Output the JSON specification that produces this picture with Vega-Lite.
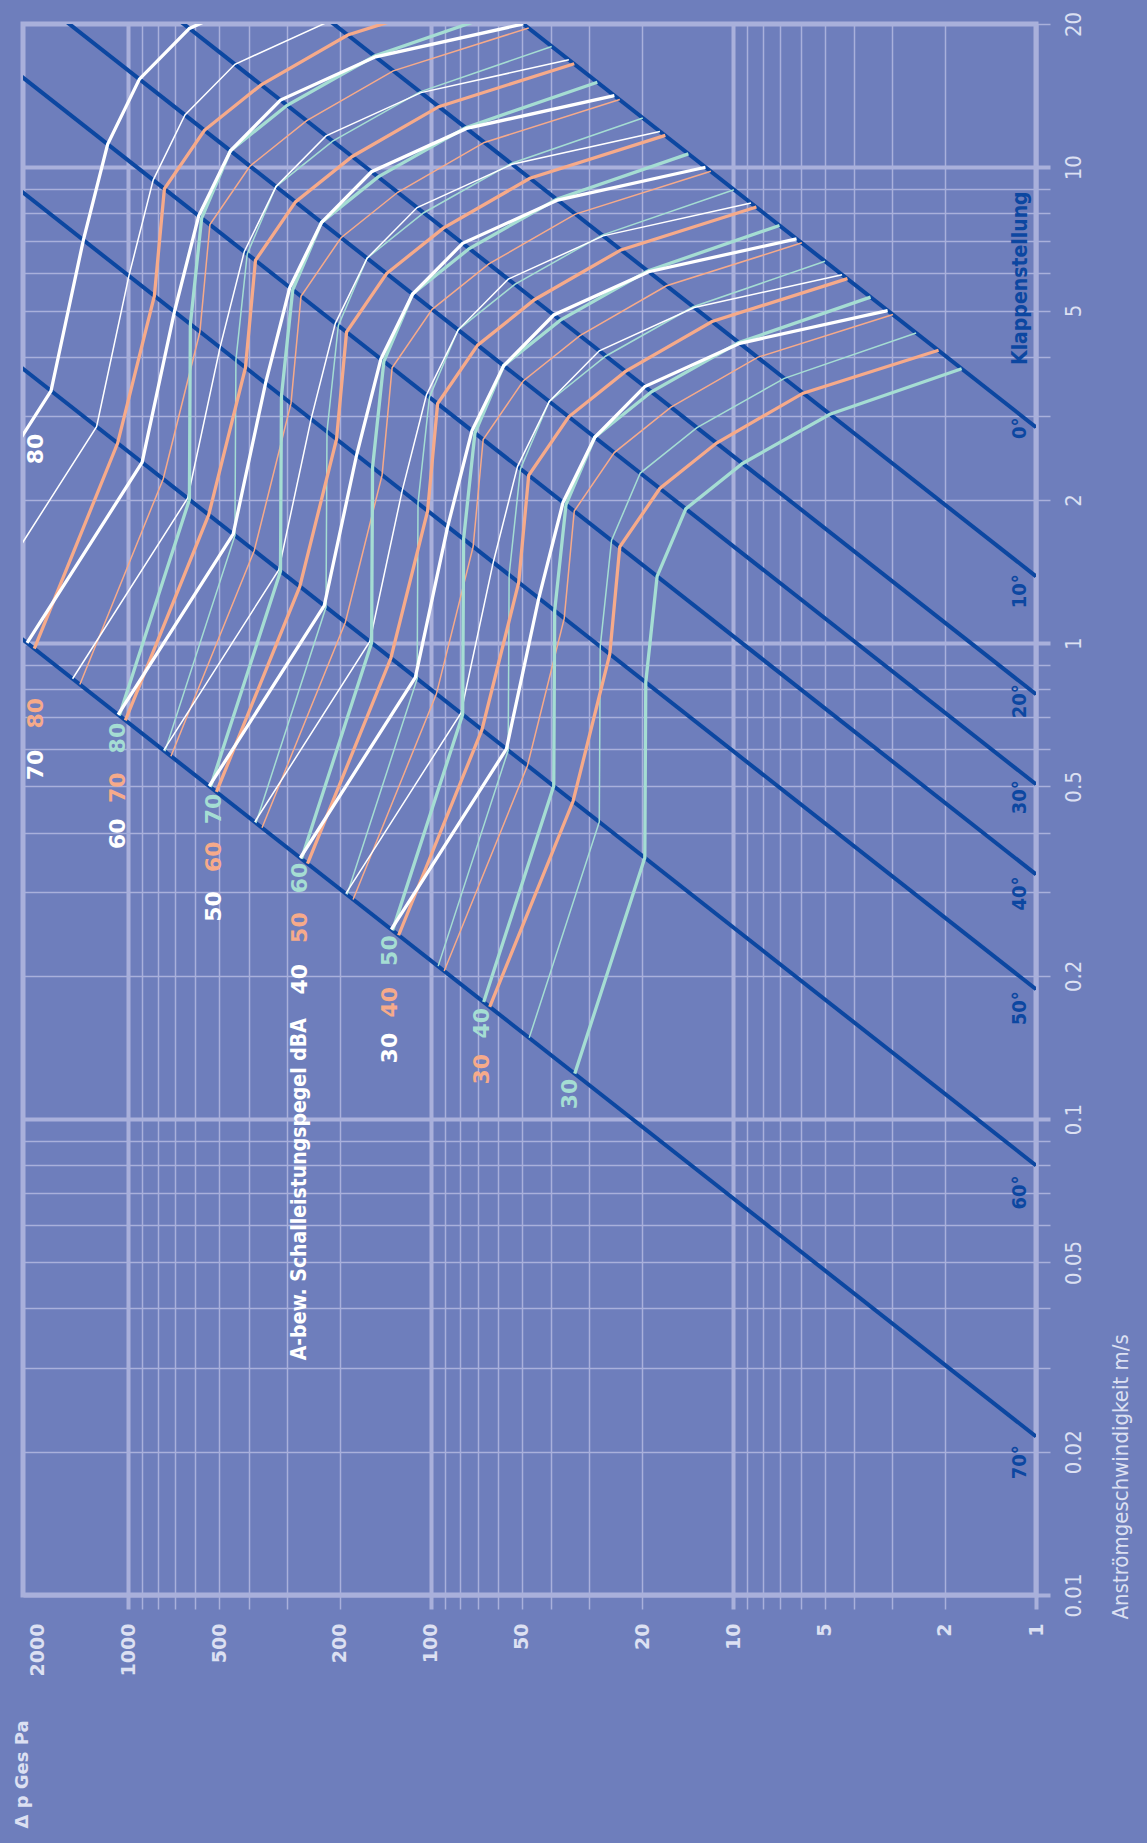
{
"$schema": "https://vega.github.io/schema/vega-lite/v6.json",
"width": 1013, "height": 1571,
"autosize": {"type": "none"},
"padding": {"left": 23, "top": 24, "right": 111, "bottom": 248},
"background": "#6E7EBC",
"config": {"view": {"stroke": "#A9B0DB", "strokeWidth": 5}, "font": "DejaVu Sans"},
"datasets": {
"angles": [
{"a":0,"p":1,"v":2.843},{"a":0,"p":10000,"v":284.3},
{"a":10,"p":1,"v":1.382},{"a":10,"p":10000,"v":138.2},
{"a":20,"p":1,"v":0.7809},{"a":20,"p":10000,"v":78.09},
{"a":30,"p":1,"v":0.5052},{"a":30,"p":10000,"v":50.52},
{"a":40,"p":1,"v":0.3268},{"a":40,"p":10000,"v":32.68},
{"a":50,"p":1,"v":0.1874},{"a":50,"p":10000,"v":18.74},
{"a":60,"p":1,"v":0.07991},{"a":60,"p":10000,"v":7.991},
{"a":70,"p":1,"v":0.02153},{"a":70,"p":10000,"v":2.153}
],
"anglelabels": [
{"t":"0°","p":1.13,"v":2.829},{"t":"10°","p":1.13,"v":1.285},{"t":"20°","p":1.13,"v":0.7549},{"t":"30°","p":1.13,"v":0.4745},
{"t":"40°","p":1.13,"v":0.298},{"t":"50°","p":1.13,"v":0.1709},{"t":"60°","p":1.13,"v":0.0701},{"t":"70°","p":1.13,"v":0.019}
],
"levels": [
{"f":"white","L":80,"p":2021,"v":2.559},{"f":"white","L":70,"p":2021,"v":0.5548},{"f":"white","L":60,"p":1081,"v":0.3977},{"f":"white","L":50,"p":521.6,"v":0.2797},{"f":"white","L":40,"p":270.7,"v":0.1967},{"f":"white","L":30,"p":136.4,"v":0.141},
{"f":"salmon","L":80,"p":2021,"v":0.7127},{"f":"salmon","L":70,"p":1081,"v":0.4968},{"f":"salmon","L":60,"p":521.6,"v":0.3558},{"f":"salmon","L":50,"p":270.7,"v":0.2526},{"f":"salmon","L":40,"p":136.4,"v":0.1761},{"f":"salmon","L":30,"p":67.92,"v":0.1273},
{"f":"mint","L":80,"p":1081,"v":0.6318},{"f":"mint","L":70,"p":521.6,"v":0.4485},{"f":"mint","L":60,"p":270.7,"v":0.3212},{"f":"mint","L":50,"p":136.4,"v":0.226},{"f":"mint","L":40,"p":67.92,"v":0.159},{"f":"mint","L":30,"p":34.7,"v":0.1129}
],
"curves": [
{"f":"mint","L":30,"a":70,"p":33.45,"v":0.1246},{"f":"mint","L":30,"a":60,"p":19.63,"v":0.3541},{"f":"mint","L":30,"a":50,"p":19.49,"v":0.8269},{"f":"mint","L":30,"a":40,"p":17.88,"v":1.382},{"f":"mint","L":30,"a":30,"p":14.37,"v":1.915},{"f":"mint","L":30,"a":20,"p":9.331,"v":2.386},{"f":"mint","L":30,"a":10,"p":4.799,"v":3.028},{"f":"mint","L":30,"a":0,"p":1.761,"v":3.772},
{"f":"mint","L":35,"a":70,"p":47.31,"v":0.1482},{"f":"mint","L":35,"a":60,"p":27.76,"v":0.4211},{"f":"mint","L":35,"a":50,"p":27.56,"v":0.9833},{"f":"mint","L":35,"a":40,"p":25.29,"v":1.6435},{"f":"mint","L":35,"a":30,"p":20.32,"v":2.2773},{"f":"mint","L":35,"a":20,"p":13.196,"v":2.8374},{"f":"mint","L":35,"a":10,"p":6.787,"v":3.601},{"f":"mint","L":35,"a":0,"p":2.4904,"v":4.4857},
{"f":"mint","L":40,"a":70,"p":66.9,"v":0.1762},{"f":"mint","L":40,"a":60,"p":39.26,"v":0.5008},{"f":"mint","L":40,"a":50,"p":38.98,"v":1.1694},{"f":"mint","L":40,"a":40,"p":35.76,"v":1.9544},{"f":"mint","L":40,"a":30,"p":28.74,"v":2.7082},{"f":"mint","L":40,"a":20,"p":18.662,"v":3.3743},{"f":"mint","L":40,"a":10,"p":9.598,"v":4.2822},{"f":"mint","L":40,"a":0,"p":3.522,"v":5.3344},
{"f":"mint","L":45,"a":70,"p":94.61,"v":0.2096},{"f":"mint","L":45,"a":60,"p":55.52,"v":0.5955},{"f":"mint","L":45,"a":50,"p":55.13,"v":1.3907},{"f":"mint","L":45,"a":40,"p":50.57,"v":2.3242},{"f":"mint","L":45,"a":30,"p":40.65,"v":3.2206},{"f":"mint","L":45,"a":20,"p":26.392,"v":4.0128},{"f":"mint","L":45,"a":10,"p":13.574,"v":5.0925},{"f":"mint","L":45,"a":0,"p":4.9808,"v":6.3437},
{"f":"mint","L":50,"a":70,"p":133.8,"v":0.2492},{"f":"mint","L":50,"a":60,"p":78.52,"v":0.7082},{"f":"mint","L":50,"a":50,"p":77.96,"v":1.6538},{"f":"mint","L":50,"a":40,"p":71.52,"v":2.764},{"f":"mint","L":50,"a":30,"p":57.48,"v":3.83},{"f":"mint","L":50,"a":20,"p":37.324,"v":4.772},{"f":"mint","L":50,"a":10,"p":19.196,"v":6.056},{"f":"mint","L":50,"a":0,"p":7.044,"v":7.544},
{"f":"mint","L":55,"a":70,"p":189.2,"v":0.2963},{"f":"mint","L":55,"a":60,"p":111.0,"v":0.8422},{"f":"mint","L":55,"a":50,"p":110.3,"v":1.9667},{"f":"mint","L":55,"a":40,"p":101.1,"v":3.2869},{"f":"mint","L":55,"a":30,"p":81.29,"v":4.5546},{"f":"mint","L":55,"a":20,"p":52.784,"v":5.6749},{"f":"mint","L":55,"a":10,"p":27.147,"v":7.2018},{"f":"mint","L":55,"a":0,"p":9.9618,"v":8.9713},
{"f":"mint","L":60,"a":70,"p":267.6,"v":0.3524},{"f":"mint","L":60,"a":60,"p":157.0,"v":1.0016},{"f":"mint","L":60,"a":50,"p":155.9,"v":2.3388},{"f":"mint","L":60,"a":40,"p":143.0,"v":3.9088},{"f":"mint","L":60,"a":30,"p":115.0,"v":5.4164},{"f":"mint","L":60,"a":20,"p":74.648,"v":6.7486},{"f":"mint","L":60,"a":10,"p":38.392,"v":8.5644},{"f":"mint","L":60,"a":0,"p":14.088,"v":10.669},
{"f":"mint","L":65,"a":70,"p":378.5,"v":0.4191},{"f":"mint","L":65,"a":60,"p":222.1,"v":1.1911},{"f":"mint","L":65,"a":50,"p":220.5,"v":2.7814},{"f":"mint","L":65,"a":40,"p":202.3,"v":4.6485},{"f":"mint","L":65,"a":30,"p":162.6,"v":6.4413},{"f":"mint","L":65,"a":20,"p":105.57,"v":8.0255},{"f":"mint","L":65,"a":10,"p":54.295,"v":10.185},{"f":"mint","L":65,"a":0,"p":19.923,"v":12.687},
{"f":"mint","L":70,"a":70,"p":535.2,"v":0.4984},{"f":"mint","L":70,"a":60,"p":314.1,"v":1.4164},{"f":"mint","L":70,"a":50,"p":311.8,"v":3.3076},{"f":"mint","L":70,"a":40,"p":286.1,"v":5.528},{"f":"mint","L":70,"a":30,"p":229.9,"v":7.66},{"f":"mint","L":70,"a":20,"p":149.3,"v":9.544},{"f":"mint","L":70,"a":10,"p":76.784,"v":12.112},{"f":"mint","L":70,"a":0,"p":28.176,"v":15.088},
{"f":"mint","L":75,"a":70,"p":756.9,"v":0.5927},{"f":"mint","L":75,"a":60,"p":444.2,"v":1.6844},{"f":"mint","L":75,"a":50,"p":441.0,"v":3.9334},{"f":"mint","L":75,"a":40,"p":404.6,"v":6.5739},{"f":"mint","L":75,"a":30,"p":325.2,"v":9.1093},{"f":"mint","L":75,"a":20,"p":211.14,"v":11.35},{"f":"mint","L":75,"a":10,"p":108.59,"v":14.404},{"f":"mint","L":75,"a":0,"p":39.847,"v":17.943},
{"f":"mint","L":80,"a":70,"p":1070.4,"v":0.7048},{"f":"mint","L":80,"a":60,"p":628.2,"v":2.0031},{"f":"mint","L":80,"a":50,"p":623.7,"v":4.6777},{"f":"mint","L":80,"a":40,"p":572.2,"v":7.8178},{"f":"mint","L":80,"a":30,"p":459.8,"v":10.833},{"f":"mint","L":80,"a":20,"p":298.6,"v":13.497},{"f":"mint","L":80,"a":10,"p":153.57,"v":17.129},{"f":"mint","L":80,"a":0,"p":56.352,"v":21.338},
{"f":"salmon","L":30,"a":70,"p":63.91,"v":0.1721},{"f":"salmon","L":30,"a":60,"p":33.89,"v":0.4654},{"f":"salmon","L":30,"a":50,"p":25.63,"v":0.9483},{"f":"salmon","L":30,"a":40,"p":23.75,"v":1.593},{"f":"salmon","L":30,"a":30,"p":17.51,"v":2.114},{"f":"salmon","L":30,"a":20,"p":11.37,"v":2.634},{"f":"salmon","L":30,"a":10,"p":5.884,"v":3.352},{"f":"salmon","L":30,"a":0,"p":2.099,"v":4.125},
{"f":"salmon","L":35,"a":70,"p":90.38,"v":0.20466},{"f":"salmon","L":35,"a":60,"p":47.93,"v":0.55345},{"f":"salmon","L":35,"a":50,"p":36.246,"v":1.1277},{"f":"salmon","L":35,"a":40,"p":33.587,"v":1.8944},{"f":"salmon","L":35,"a":30,"p":24.763,"v":2.514},{"f":"salmon","L":35,"a":20,"p":16.079,"v":3.1324},{"f":"salmon","L":35,"a":10,"p":8.3213,"v":3.9862},{"f":"salmon","L":35,"a":0,"p":2.9684,"v":4.9055},
{"f":"salmon","L":40,"a":70,"p":127.82,"v":0.24338},{"f":"salmon","L":40,"a":60,"p":67.78,"v":0.65817},{"f":"salmon","L":40,"a":50,"p":51.26,"v":1.3411},{"f":"salmon","L":40,"a":40,"p":47.5,"v":2.2528},{"f":"salmon","L":40,"a":30,"p":35.02,"v":2.9896},{"f":"salmon","L":40,"a":20,"p":22.74,"v":3.725},{"f":"salmon","L":40,"a":10,"p":11.768,"v":4.7404},{"f":"salmon","L":40,"a":0,"p":4.198,"v":5.8336},
{"f":"salmon","L":45,"a":70,"p":180.76,"v":0.28944},{"f":"salmon","L":45,"a":60,"p":95.86,"v":0.78271},{"f":"salmon","L":45,"a":50,"p":72.492,"v":1.5948},{"f":"salmon","L":45,"a":40,"p":67.175,"v":2.6791},{"f":"salmon","L":45,"a":30,"p":49.526,"v":3.5553},{"f":"salmon","L":45,"a":20,"p":32.159,"v":4.4299},{"f":"salmon","L":45,"a":10,"p":16.643,"v":5.6374},{"f":"salmon","L":45,"a":0,"p":5.9368,"v":6.9374},
{"f":"salmon","L":50,"a":70,"p":255.64,"v":0.3442},{"f":"salmon","L":50,"a":60,"p":135.56,"v":0.9308},{"f":"salmon","L":50,"a":50,"p":102.52,"v":1.8966},{"f":"salmon","L":50,"a":40,"p":95,"v":3.186},{"f":"salmon","L":50,"a":30,"p":70.04,"v":4.228},{"f":"salmon","L":50,"a":20,"p":45.48,"v":5.268},{"f":"salmon","L":50,"a":10,"p":23.536,"v":6.704},{"f":"salmon","L":50,"a":0,"p":8.396,"v":8.25},
{"f":"salmon","L":55,"a":70,"p":361.53,"v":0.40932},{"f":"salmon","L":55,"a":60,"p":191.71,"v":1.1069},{"f":"salmon","L":55,"a":50,"p":144.98,"v":2.2554},{"f":"salmon","L":55,"a":40,"p":134.35,"v":3.7888},{"f":"salmon","L":55,"a":30,"p":99.052,"v":5.0279},{"f":"salmon","L":55,"a":20,"p":64.318,"v":6.2647},{"f":"salmon","L":55,"a":10,"p":33.285,"v":7.9724},{"f":"salmon","L":55,"a":0,"p":11.874,"v":9.8109},
{"f":"salmon","L":60,"a":70,"p":511.28,"v":0.48677},{"f":"salmon","L":60,"a":60,"p":271.12,"v":1.3163},{"f":"salmon","L":60,"a":50,"p":205.04,"v":2.6822},{"f":"salmon","L":60,"a":40,"p":190,"v":4.5056},{"f":"salmon","L":60,"a":30,"p":140.08,"v":5.9792},{"f":"salmon","L":60,"a":20,"p":90.96,"v":7.45},{"f":"salmon","L":60,"a":10,"p":47.072,"v":9.4808},{"f":"salmon","L":60,"a":0,"p":16.792,"v":11.667},
{"f":"salmon","L":65,"a":70,"p":723.06,"v":0.57888},{"f":"salmon","L":65,"a":60,"p":383.42,"v":1.5654},{"f":"salmon","L":65,"a":50,"p":289.97,"v":3.1897},{"f":"salmon","L":65,"a":40,"p":268.7,"v":5.3582},{"f":"salmon","L":65,"a":30,"p":198.1,"v":7.1106},{"f":"salmon","L":65,"a":20,"p":128.64,"v":8.8597},{"f":"salmon","L":65,"a":10,"p":66.57,"v":11.275},{"f":"salmon","L":65,"a":0,"p":23.747,"v":13.875},
{"f":"salmon","L":70,"a":70,"p":1022.6,"v":0.6884},{"f":"salmon","L":70,"a":60,"p":542.24,"v":1.8616},{"f":"salmon","L":70,"a":50,"p":410.08,"v":3.7932},{"f":"salmon","L":70,"a":40,"p":380,"v":6.372},{"f":"salmon","L":70,"a":30,"p":280.16,"v":8.456},{"f":"salmon","L":70,"a":20,"p":181.92,"v":10.536},{"f":"salmon","L":70,"a":10,"p":94.144,"v":13.408},{"f":"salmon","L":70,"a":0,"p":33.584,"v":16.5},
{"f":"salmon","L":75,"a":70,"p":1446.1,"v":0.81865},{"f":"salmon","L":75,"a":60,"p":766.85,"v":2.2138},{"f":"salmon","L":75,"a":50,"p":579.94,"v":4.5109},{"f":"salmon","L":75,"a":40,"p":537.4,"v":7.5776},{"f":"salmon","L":75,"a":30,"p":396.21,"v":10.056},{"f":"salmon","L":75,"a":20,"p":257.27,"v":12.529},{"f":"salmon","L":75,"a":10,"p":133.14,"v":15.945},{"f":"salmon","L":75,"a":0,"p":47.495,"v":19.622},
{"f":"salmon","L":80,"a":70,"p":2045.1,"v":0.97355},{"f":"salmon","L":80,"a":60,"p":1084.5,"v":2.6327},{"f":"salmon","L":80,"a":50,"p":820.16,"v":5.3644},{"f":"salmon","L":80,"a":40,"p":760,"v":9.0114},{"f":"salmon","L":80,"a":30,"p":560.32,"v":11.959},{"f":"salmon","L":80,"a":20,"p":363.84,"v":14.9},{"f":"salmon","L":80,"a":10,"p":188.29,"v":18.962},{"f":"salmon","L":80,"a":0,"p":67.168,"v":23.335},
{"f":"white","L":30,"a":70,"p":135.1,"v":0.2503},{"f":"white","L":30,"a":60,"p":56.27,"v":0.5995},{"f":"white","L":30,"a":50,"p":44.0,"v":1.2427},{"f":"white","L":30,"a":40,"p":36.58,"v":1.976},{"f":"white","L":30,"a":30,"p":28.72,"v":2.708},{"f":"white","L":30,"a":20,"p":19.63,"v":3.46},{"f":"white","L":30,"a":10,"p":9.524,"v":4.266},{"f":"white","L":30,"a":0,"p":3.093,"v":5.0},
{"f":"white","L":35,"a":70,"p":191.06,"v":0.29766},{"f":"white","L":35,"a":60,"p":79.577,"v":0.71293},{"f":"white","L":35,"a":50,"p":62.225,"v":1.4778},{"f":"white","L":35,"a":40,"p":51.731,"v":2.3499},{"f":"white","L":35,"a":30,"p":40.616,"v":3.2204},{"f":"white","L":35,"a":20,"p":27.761,"v":4.1146},{"f":"white","L":35,"a":10,"p":13.469,"v":5.0731},{"f":"white","L":35,"a":0,"p":4.3741,"v":5.946},
{"f":"white","L":40,"a":70,"p":270.2,"v":0.35397},{"f":"white","L":40,"a":60,"p":112.54,"v":0.84781},{"f":"white","L":40,"a":50,"p":88,"v":1.7574},{"f":"white","L":40,"a":40,"p":73.16,"v":2.7945},{"f":"white","L":40,"a":30,"p":57.44,"v":3.8297},{"f":"white","L":40,"a":20,"p":39.26,"v":4.8931},{"f":"white","L":40,"a":10,"p":19.048,"v":6.033},{"f":"white","L":40,"a":0,"p":6.186,"v":7.0711},
{"f":"white","L":45,"a":70,"p":382.12,"v":0.42095},{"f":"white","L":45,"a":60,"p":159.15,"v":1.0082},{"f":"white","L":45,"a":50,"p":124.45,"v":2.09},{"f":"white","L":45,"a":40,"p":103.46,"v":3.3232},{"f":"white","L":45,"a":30,"p":81.232,"v":4.5543},{"f":"white","L":45,"a":20,"p":55.522,"v":5.819},{"f":"white","L":45,"a":10,"p":26.938,"v":7.1746},{"f":"white","L":45,"a":0,"p":8.7482,"v":8.409},
{"f":"white","L":50,"a":70,"p":540.4,"v":0.5006},{"f":"white","L":50,"a":60,"p":225.08,"v":1.199},{"f":"white","L":50,"a":50,"p":176,"v":2.4854},{"f":"white","L":50,"a":40,"p":146.32,"v":3.952},{"f":"white","L":50,"a":30,"p":114.88,"v":5.416},{"f":"white","L":50,"a":20,"p":78.52,"v":6.92},{"f":"white","L":50,"a":10,"p":38.096,"v":8.532},{"f":"white","L":50,"a":0,"p":12.372,"v":10},
{"f":"white","L":55,"a":70,"p":764.25,"v":0.59531},{"f":"white","L":55,"a":60,"p":318.31,"v":1.4258},{"f":"white","L":55,"a":50,"p":248.9,"v":2.9556},{"f":"white","L":55,"a":40,"p":206.92,"v":4.6997},{"f":"white","L":55,"a":30,"p":162.46,"v":6.4407},{"f":"white","L":55,"a":20,"p":111.04,"v":8.2293},{"f":"white","L":55,"a":10,"p":53.876,"v":10.146},{"f":"white","L":55,"a":0,"p":17.496,"v":11.892},
{"f":"white","L":60,"a":70,"p":1080.8,"v":0.70795},{"f":"white","L":60,"a":60,"p":450.16,"v":1.6956},{"f":"white","L":60,"a":50,"p":352,"v":3.5149},{"f":"white","L":60,"a":40,"p":292.64,"v":5.5889},{"f":"white","L":60,"a":30,"p":229.76,"v":7.6593},{"f":"white","L":60,"a":20,"p":157.04,"v":9.7863},{"f":"white","L":60,"a":10,"p":76.192,"v":12.066},{"f":"white","L":60,"a":0,"p":24.744,"v":14.142},
{"f":"white","L":65,"a":70,"p":1528.5,"v":0.8419},{"f":"white","L":65,"a":60,"p":636.62,"v":2.0165},{"f":"white","L":65,"a":50,"p":497.8,"v":4.18},{"f":"white","L":65,"a":40,"p":413.85,"v":6.6465},{"f":"white","L":65,"a":30,"p":324.93,"v":9.1086},{"f":"white","L":65,"a":20,"p":222.09,"v":11.638},{"f":"white","L":65,"a":10,"p":107.75,"v":14.349},{"f":"white","L":65,"a":0,"p":34.993,"v":16.818},
{"f":"white","L":70,"a":70,"p":2161.6,"v":1.0012},{"f":"white","L":70,"a":60,"p":900.32,"v":2.398},{"f":"white","L":70,"a":50,"p":704,"v":4.9708},{"f":"white","L":70,"a":40,"p":585.28,"v":7.904},{"f":"white","L":70,"a":30,"p":459.52,"v":10.832},{"f":"white","L":70,"a":20,"p":314.08,"v":13.84},{"f":"white","L":70,"a":10,"p":152.38,"v":17.064},{"f":"white","L":70,"a":0,"p":49.488,"v":20},
{"f":"white","L":75,"a":70,"p":3057,"v":1.1906},{"f":"white","L":75,"a":60,"p":1273.2,"v":2.8517},{"f":"white","L":75,"a":50,"p":995.6,"v":5.9113},{"f":"white","L":75,"a":40,"p":827.7,"v":9.3994},{"f":"white","L":75,"a":30,"p":649.86,"v":12.881},{"f":"white","L":75,"a":20,"p":444.17,"v":16.459},{"f":"white","L":75,"a":10,"p":215.5,"v":20.293},{"f":"white","L":75,"a":0,"p":69.986,"v":23.784},
{"f":"white","L":80,"a":70,"p":4323.2,"v":1.4159},{"f":"white","L":80,"a":60,"p":1800.6,"v":3.3913},{"f":"white","L":80,"a":50,"p":1408,"v":7.0298},{"f":"white","L":80,"a":40,"p":1170.6,"v":11.178},{"f":"white","L":80,"a":30,"p":919.04,"v":15.319},{"f":"white","L":80,"a":20,"p":628.16,"v":19.573},{"f":"white","L":80,"a":10,"p":304.77,"v":24.132},{"f":"white","L":80,"a":0,"p":98.976,"v":28.284}
]
},
"encoding": {
"x": {"field": "p", "type": "quantitative",
 "scale": {"type": "log", "domain": [1, 2229], "reverse": true, "nice": false, "zero": false},
 "axis": {"orient": "bottom", "values": [1,2,3,4,5,6,7,8,9,10,20,30,40,50,60,70,80,90,100,200,300,400,500,600,700,800,900,1000,2000],
  "grid": true, "gridColor": "#A9B0DB",
  "gridWidth": {"condition": {"test": "indexof([1,10,100,1000], datum.value) >= 0", "value": 4}, "value": 1.5},
  "gridOpacity": {"condition": {"test": "datum.value == 2000", "value": 0}, "value": 1},
  "domain": false, "ticks": true, "tickSize": 14, "tickColor": "#A9B0DB",
  "tickWidth": {"condition": {"test": "indexof([1,10,100,1000], datum.value) >= 0", "value": 4}, "value": 1.5},
  "tickOpacity": {"condition": {"test": "datum.value == 2000", "value": 0}, "value": 1},
  "labelExpr": "indexof([1,2,5,10,20,50,100,200,500,1000,2000], datum.value) >= 0 ? '' + datum.value : ''",
  "labelAngle": 270, "labelAlign": "right", "labelBaseline": "middle", "labelPadding": 14,
  "labelFont": "DejaVu Sans", "labelFontSize": 19, "labelFontWeight": "bold", "labelColor": "#DCE0F2",
  "labelOverlap": false, "labelBound": false, "labelFlush": false,
  "title": "Δ p Ges Pa", "titleAngle": 270, "titleAlign": "left", "titleBaseline": "middle",
  "titleX": -1, "titleY": 233, "titleFont": "DejaVu Sans", "titleFontSize": 18, "titleFontWeight": "bold", "titleColor": "#DCE0F2"}},
"y": {"field": "v", "type": "quantitative",
 "scale": {"type": "log", "domain": [0.01, 20], "nice": false, "zero": false},
 "axis": {"orient": "right", "values": [0.01,0.02,0.03,0.04,0.05,0.06,0.07,0.08,0.09,0.1,0.2,0.3,0.4,0.5,0.6,0.7,0.8,0.9,1,2,3,4,5,6,7,8,9,10,20],
  "grid": true, "gridColor": "#A9B0DB",
  "gridWidth": {"condition": {"test": "indexof([0.01,0.1,1,10], datum.value) >= 0", "value": 4}, "value": 1.5},
  "domain": false, "ticks": true, "tickSize": 14, "tickColor": "#A9B0DB",
  "tickWidth": {"condition": {"test": "indexof([0.01,0.1,1,10], datum.value) >= 0", "value": 4}, "value": 1.5},
  "labelExpr": "indexof([0.01,0.02,0.05,0.1,0.2,0.5,1,2,5,10,20], datum.value) >= 0 ? '' + datum.value : ''",
  "labelAngle": 270, "labelAlign": "center", "labelBaseline": "top", "labelPadding": 13,
  "labelFont": "DejaVu Sans Condensed, DejaVu Sans", "labelFontSize": 22, "labelColor": "#DCE0F2",
  "labelOverlap": false, "labelBound": false, "labelFlush": false,
  "title": "Anströmgeschwindigkeit m/s", "titleAngle": 270, "titleAlign": "left", "titleBaseline": "top",
  "titleX": 74, "titleY": 1595, "titleFont": "DejaVu Sans Condensed, DejaVu Sans", "titleFontSize": 22, "titleFontWeight": "normal", "titleColor": "#DCE0F2"}}
},
"layer": [
{"data": {"name": "angles"}, "mark": {"type": "line", "clip": true, "color": "#0C47A1", "strokeWidth": 4},
 "encoding": {"detail": {"field": "a"}}},
{"data": {"name": "curves"}, "transform": [{"filter": "datum.L % 10 != 0"}],
 "mark": {"type": "line", "clip": true, "strokeWidth": 1.5},
 "encoding": {"detail": {"field": "L"}, "order": {"field": "a"},
  "color": {"field": "f", "type": "nominal", "scale": {"domain": ["salmon","mint","white"], "range": ["#F6AA8A","#A5DDD3","#FFFFFF"]}, "legend": null}}},
{"data": {"name": "curves"}, "transform": [{"filter": "datum.L % 10 == 0"}],
 "mark": {"type": "line", "clip": true, "strokeWidth": 3.3},
 "encoding": {"detail": {"field": "L"}, "order": {"field": "a"},
  "color": {"field": "f", "type": "nominal", "scale": {"domain": ["salmon","mint","white"], "range": ["#F6AA8A","#A5DDD3","#FFFFFF"]}, "legend": null}}},
{"data": {"name": "anglelabels"}, "mark": {"type": "text", "angle": 270, "align": "center", "baseline": "middle", "font": "DejaVu Sans Condensed, DejaVu Sans", "fontSize": 20, "fontWeight": "bold", "color": "#0C47A1"},
 "encoding": {"text": {"field": "t"}}},
{"data": {"values": [{"t": "Klappenstellung", "p": 1.121, "v": 5.847}]}, "mark": {"type": "text", "angle": 270, "align": "center", "baseline": "middle", "font": "DejaVu Sans Condensed, DejaVu Sans", "fontSize": 21, "fontWeight": "bold", "color": "#0C47A1"},
 "encoding": {"text": {"field": "t"}}},
{"data": {"values": [{"t": "A-bew. Schalleistungspegel dBA", "p": 271.6, "v": 0.0712}]}, "mark": {"type": "text", "angle": 270, "align": "center", "baseline": "middle", "font": "DejaVu Sans Condensed, Liberation Sans Narrow, DejaVu Sans", "fontSize": 21, "fontWeight": "bold", "color": "#FFFFFF"},
 "encoding": {"text": {"field": "t"}}},
{"data": {"name": "levels"}, "mark": {"type": "text", "angle": 270, "align": "center", "baseline": "middle", "font": "DejaVu Sans", "fontSize": 22, "fontWeight": "bold"},
 "encoding": {"text": {"field": "L"},
  "color": {"field": "f", "type": "nominal", "scale": {"domain": ["salmon","mint","white"], "range": ["#F6AA8A","#A5DDD3","#FFFFFF"]}, "legend": null}}}
]
}
